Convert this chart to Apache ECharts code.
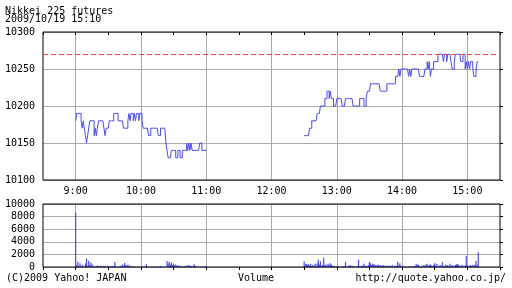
<!DOCTYPE html>
<html><head><meta charset="utf-8">
<script src="https://cdn.jsdelivr.net/npm/echarts@6/dist/echarts.min.js"></script>
<style>html,body{margin:0;padding:0;background:#fff}#c{width:512px;height:288px}</style>
</head><body><div id="c"></div>
<script>
// Time in minutes since midnight
const amStartMin = 540;   // 9:00
const pmStartMin = 750;   // 12:30
const prevClose = 10270;
const priceTicks = [10100, 10150, 10200, 10250, 10300];
const volumeTicks = [0, 2000, 4000, 6000, 8000, 10000];
const hourLabels = ['9:00','10:00','11:00','12:00','13:00','14:00','15:00'];

// 1-minute prices 9:00 .. 11:00
const amPrice = [
10180,10190,10190,10190,10190,10180,10170,10180,10170,10160,
10150,10160,10170,10180,10180,10180,10180,10160,10170,10160,
10170,10180,10180,10180,10180,10180,10170,10160,10170,10170,
10170,10180,10180,10180,10180,10190,10190,10190,10190,10180,
10180,10180,10180,10180,10170,10170,10170,10170,10180,10190,
10180,10190,10190,10180,10190,10180,10190,10190,10180,10190,
10190,10180,10170,10170,10170,10170,10170,10160,10160,10170,
10170,10170,10170,10170,10170,10170,10160,10160,10170,10170,
10170,10170,10170,10150,10140,10130,10130,10130,10140,10140,
10140,10140,10130,10130,10140,10140,10130,10130,10140,10140,
10140,10140,10150,10140,10150,10140,10150,10140,10140,10140,
10140,10140,10140,10140,10150,10150,10140,10140,10140,10140,
10140];
// 1-minute prices 12:30 .. 15:10
const pmPrice = [
10160,10160,10160,10160,10160,10170,10170,10180,10180,10180,
10180,10180,10190,10190,10190,10200,10200,10200,10200,10210,
10210,10220,10220,10210,10220,10210,10210,10200,10200,10200,
10210,10210,10210,10210,10210,10200,10200,10200,10210,10210,
10210,10210,10210,10210,10210,10200,10200,10200,10200,10200,
10200,10210,10210,10210,10210,10200,10200,10210,10220,10220,
10220,10230,10230,10230,10230,10230,10230,10230,10230,10230,
10220,10220,10220,10220,10220,10220,10230,10230,10230,10230,
10230,10230,10230,10230,10240,10240,10240,10250,10240,10250,
10250,10250,10250,10250,10250,10250,10240,10250,10240,10250,
10250,10250,10250,10250,10250,10250,10240,10240,10240,10240,
10240,10250,10250,10260,10250,10260,10240,10250,10250,10260,
10260,10260,10260,10270,10270,10270,10270,10270,10260,10270,
10270,10260,10270,10270,10270,10260,10250,10250,10260,10270,
10270,10270,10270,10270,10260,10260,10270,10270,10250,10260,
10250,10260,10250,10260,10260,10250,10240,10240,10250,10260,
10260];

// 1-minute volume 9:00 .. 11:00
const amVolume = [
8600,300,850,200,580,150,350,100,60,580,
1380,250,1000,300,700,400,250,100,50,100,
250,120,80,200,150,70,200,90,60,200,
40,150,80,50,100,60,790,100,40,0,
50,200,100,400,150,630,300,150,400,100,
250,80,50,100,60,30,0,40,20,50,
0,30,60,80,30,420,60,20,0,40,
60,30,80,50,0,100,40,20,160,30,
50,0,40,20,950,500,800,400,700,300,
550,250,400,150,300,100,200,60,150,50,
150,80,250,100,300,250,150,80,150,420,
100,150,60,40,0,30,80,60,120,50,
150];
// 1-minute volume 12:30 .. 15:10
const pmVolume = [
900,450,500,300,450,200,500,150,300,100,
500,200,600,1160,400,900,150,300,1480,300,
400,250,500,300,600,400,200,100,150,50,
100,60,100,40,80,20,60,100,850,100,
50,200,300,80,200,150,100,50,80,200,
1160,100,80,200,200,500,100,200,80,300,
800,600,300,500,400,350,300,250,400,200,
300,150,200,300,150,200,100,250,150,200,
100,300,50,100,200,150,850,300,600,100,
200,80,50,100,0,50,100,80,50,100,
40,200,100,500,300,400,100,50,200,100,
300,200,400,500,100,300,400,200,100,300,
600,200,500,100,200,300,100,740,200,80,
400,200,300,100,500,200,300,100,200,300,
400,500,300,100,200,300,100,250,200,1800,
300,100,200,300,150,350,200,400,950,300,
2330];

const BLUE = '#4a4aff';
const GRID = '#aaaaaa';
const FONT = "'DejaVu Sans Mono', monospace";

const toPairs = (arr, start) => arr.map((v, i) => [start + i, v]);
const hourToMin = s => parseInt(s, 10) * 60;

function hourFmt(v) {
  if (v % 60 !== 0) return '';
  const s = Math.floor(v / 60) + ':00';
  return hourLabels.indexOf(s) >= 0 ? s : '';
}

const hourLines = {
  silent: true, symbol: 'none', label: { show: false }, z: 0,
  lineStyle: { color: GRID, type: 'solid', width: 1 },
  emphasis: { disabled: true },
  data: hourLabels.map(h => ({ xAxis: hourToMin(h) }))
};

const xCommon = { type: 'value', min: 510, max: 930, interval: 30 };

const chart = echarts.init(document.getElementById('c'), null, { renderer: 'canvas' });
chart.setOption({
  animation: false,
  textStyle: { fontFamily: FONT },
  grid: [
    { left: 43, right: 12, top: 32, height: 148, show: true, borderColor: '#000', borderWidth: 1, backgroundColor: 'transparent', z: 3 },
    { left: 43, right: 12, top: 204, height: 63, show: true, borderColor: '#000', borderWidth: 1, backgroundColor: 'transparent', z: 3 }
  ],
  xAxis: [
    Object.assign({}, xCommon, { gridIndex: 0, position: 'bottom',
      axisLine: { show: false }, axisTick: { show: false },
      axisLabel: { formatter: hourFmt, color: '#000', fontSize: 10, fontFamily: FONT, margin: 6, showMinLabel: false, showMaxLabel: false },
      splitLine: { show: false } }),
    Object.assign({}, xCommon, { gridIndex: 0, position: 'top',
      axisLine: { show: false }, axisLabel: { show: false },
      axisTick: { show: true, inside: true, length: 3, lineStyle: { color: '#000' } }, splitLine: { show: false } }),
    Object.assign({}, xCommon, { gridIndex: 1, position: 'bottom',
      axisLine: { show: false }, axisTick: { show: false }, axisLabel: { show: false },
      splitLine: { show: false } }),
    Object.assign({}, xCommon, { gridIndex: 1, position: 'top',
      axisLine: { show: false }, axisLabel: { show: false },
      axisTick: { show: true, inside: true, length: 3, lineStyle: { color: '#000' } }, splitLine: { show: false } })
  ],
  yAxis: [
    { type: 'value', gridIndex: 0, min: priceTicks[0], max: priceTicks[priceTicks.length - 1], interval: 50, position: 'left',
      axisLine: { show: false }, axisTick: { show: false },
      axisLabel: { color: '#000', fontSize: 10, fontFamily: FONT, margin: 8, formatter: v => String(v) },
      splitLine: { show: true, lineStyle: { color: GRID, width: 1 } } },
    { type: 'value', gridIndex: 0, min: priceTicks[0], max: priceTicks[priceTicks.length - 1], interval: 50, position: 'right',
      axisLine: { show: false }, axisLabel: { show: false },
      axisTick: { show: true, length: 3, lineStyle: { color: '#000' } }, splitLine: { show: false } },
    { type: 'value', gridIndex: 1, min: volumeTicks[0], max: volumeTicks[volumeTicks.length - 1], interval: 2000, position: 'left',
      axisLine: { show: false }, axisTick: { show: false },
      axisLabel: { color: '#000', fontSize: 10, fontFamily: FONT, margin: 8, formatter: v => String(v) },
      splitLine: { show: true, lineStyle: { color: GRID, width: 1 } } },
    { type: 'value', gridIndex: 1, min: volumeTicks[0], max: volumeTicks[volumeTicks.length - 1], interval: 2000, position: 'right',
      axisLine: { show: false }, axisLabel: { show: false },
      axisTick: { show: true, length: 3, lineStyle: { color: '#000' } }, splitLine: { show: false } }
  ],
  series: [
    { type: 'line', xAxisIndex: 0, yAxisIndex: 0, step: 'end', showSymbol: false, symbol: 'none', z: 2,
      lineStyle: { color: BLUE, width: 1 }, data: toPairs(amPrice, amStartMin),
      markLine: hourLines },
    { type: 'line', xAxisIndex: 0, yAxisIndex: 0, step: 'end', showSymbol: false, symbol: 'none', z: 2,
      lineStyle: { color: BLUE, width: 1 }, data: toPairs(pmPrice, pmStartMin),
      markLine: { silent: true, symbol: 'none', label: { show: false },
        lineStyle: { color: '#ff4040', type: [5, 3], width: 1 }, data: [{ yAxis: prevClose }] } },
    { type: 'bar', xAxisIndex: 2, yAxisIndex: 2, barWidth: 1.2, itemStyle: { color: BLUE }, z: 2,
      data: toPairs(amVolume, amStartMin), markLine: hourLines },
    { type: 'bar', xAxisIndex: 2, yAxisIndex: 2, barWidth: 1.2, barGap: '-100%', itemStyle: { color: BLUE }, z: 2,
      data: toPairs(pmVolume, pmStartMin) }
  ],
  graphic: [
    { type: 'text', left: 5, top: 6, style: { text: 'Nikkei 225 futures', font: '10px ' + FONT, fill: '#000' } },
    { type: 'text', left: 5, top: 14, style: { text: '2009/10/19 15:10', font: '10px ' + FONT, fill: '#000' } },
    { type: 'text', left: 6, top: 273, style: { text: '(C)2009 Yahoo! JAPAN', font: '10px ' + FONT, fill: '#000' } },
    { type: 'text', left: 238, top: 273, style: { text: 'Volume', font: '10px ' + FONT, fill: '#000' } },
    { type: 'text', right: 6, top: 273, style: { text: 'http://quote.yahoo.co.jp/', font: '10px ' + FONT, fill: '#000' } }
  ]
});
</script></body></html>
